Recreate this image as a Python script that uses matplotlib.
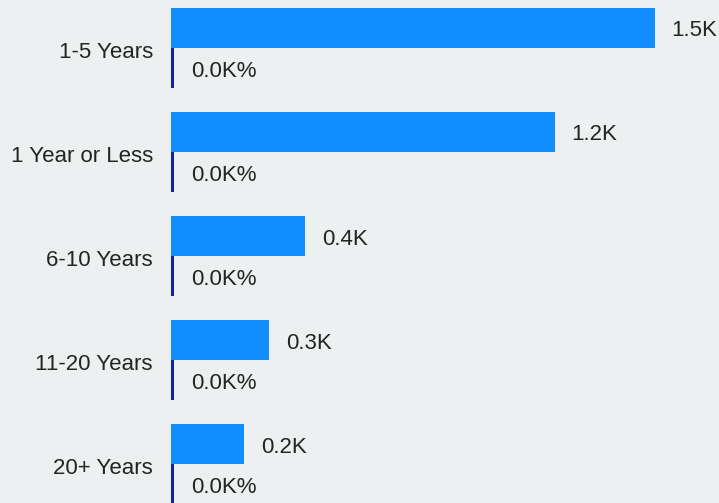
import numpy as np
import matplotlib.pyplot as plt

plt.rcParams['font.family'] = ['Liberation Sans', 'DejaVu Sans']

categories = ['1-5 Years', '1 Year or Less', '6-10 Years', '11-20 Years', '20+ Years']
counts = [1500, 1190, 416, 304, 227]
pct = [9, 9, 9, 9, 9]
count_labels = ['1.5K', '1.2K', '0.4K', '0.3K', '0.2K']
pct_labels = ['0.0K%'] * 5

bg = '#ecf0f1'
fig = plt.figure(figsize=(7.19, 5.03), dpi=100, facecolor=bg)
ax = fig.add_axes([171 / 719, 0, 1 - 171 / 719, 1])
ax.set_facecolor(bg)

y = np.arange(len(categories))
h = 0.385
ax.barh(y - h / 2 - 0.01, counts, height=h, color='#118dff')
ax.barh(y + h / 2 - 0.01, pct, height=h, color='#12239e')

for i in range(len(categories)):
    ax.text(counts[i] + 53, y[i] - h / 2 + 0.02, count_labels[i], va='center', ha='left',
            fontsize=16, color='#252423')
    ax.text(pct[i] + 53, y[i] + h / 2 + 0.02, pct_labels[i], va='center', ha='left',
            fontsize=16, color='#252423')

ax.set_xlim(0, 1700)
ax.set_ylim(4.365, -0.47)
ax.set_yticks(y + 0.01)
ax.set_yticklabels(categories, fontsize=16, color='#252423')
ax.tick_params(axis='y', length=0, pad=13)
ax.set_xticks([])
for s in ax.spines.values():
    s.set_visible(False)

fig.savefig('out.png', dpi=100, facecolor=bg)
